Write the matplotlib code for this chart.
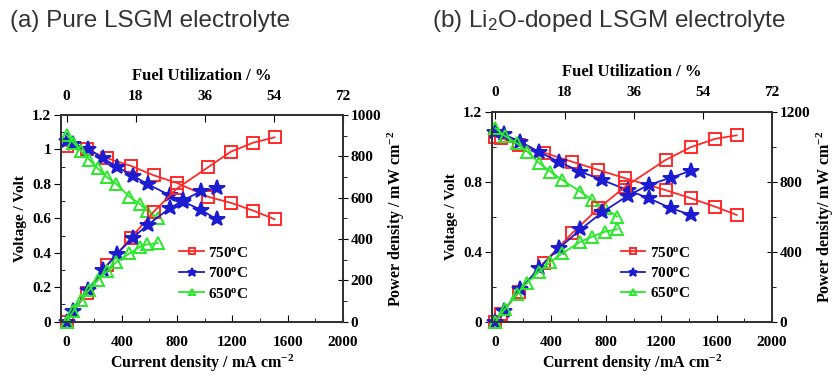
import numpy as np
import matplotlib
matplotlib.use("Agg")
import matplotlib.pyplot as plt
from matplotlib.ticker import MultipleLocator, FuncFormatter

# ---- data ----
# (a) pure LSGM
a_i750 = [0, 145, 290, 465, 630, 800, 1025, 1190, 1350, 1505]
a_v750 = [1.02, 1.0, 0.95, 0.905, 0.85, 0.805, 0.725, 0.69, 0.645, 0.595]
a_p750 = [0, 140, 272, 405, 532, 645, 748, 823, 866, 892]

a_i700 = [0, 50, 155, 265, 365, 480, 590, 745, 845, 975, 1085]
a_v700 = [1.05, 1.03, 1.005, 0.948, 0.9, 0.848, 0.797, 0.735, 0.697, 0.648, 0.595]
a_p700 = [0, 52, 155, 250, 328, 407, 470, 548, 588, 632, 646]

a_i650 = [0, 50, 105, 165, 225, 290, 360, 455, 530, 580, 660]
a_v650 = [1.085, 1.04, 0.99, 0.94, 0.89, 0.84, 0.80, 0.725, 0.685, 0.645, 0.605]
a_p650 = [0, 52, 104, 155, 200, 243, 288, 330, 362, 374, 380]

# (b) Li2O-doped LSGM
b_i750 = [0, 40, 170, 350, 555, 745, 940, 1230, 1415, 1590, 1745]
b_v750 = [1.057, 1.05, 1.01, 0.966, 0.914, 0.867, 0.819, 0.752, 0.705, 0.657, 0.61]
b_p750 = [0, 42, 170, 337, 506, 648, 772, 924, 998, 1045, 1065]

b_i700 = [0, 60, 180, 313, 458, 615, 770, 957, 1110, 1270, 1415]
b_v700 = [1.086, 1.07, 1.029, 0.971, 0.914, 0.857, 0.81, 0.752, 0.705, 0.648, 0.61]
b_p700 = [0, 64, 185, 304, 419, 527, 624, 720, 782, 823, 863]

b_i650 = [0, 70, 157, 230, 313, 398, 482, 615, 700, 795, 880]
b_v650 = [1.105, 1.06, 1.019, 0.972, 0.909, 0.857, 0.81, 0.743, 0.695, 0.648, 0.60]
b_p650 = [0, 74, 160, 223, 284, 341, 390, 457, 486, 515, 528]

temps = ["750", "700", "650"]
colors = ["#ff2a2a", "#1c1cd0", "#2ae82a"]
markers = ["s", "*", "^"]

serif = "Liberation Serif"
plt.rcParams["font.family"] = serif
plt.rcParams["font.weight"] = "bold"
plt.rcParams["mathtext.default"] = "regular"

fig = plt.figure(figsize=(8.37, 3.76), dpi=100)


def fmt(v, pos):
    return "%g" % v


def panel(rect, xmin, cur, volt, powr, pmax, vstep, pstep, xlab, ylab, plab, leg_xy):
    ax = fig.add_axes(rect)
    axp = ax.twinx()
    axt = ax.twiny()
    for k in range(3):
        ms = 11.5 if markers[k] == "*" else 9
        kw = dict(color=colors[k], marker=markers[k], ms=ms, lw=1.3, mew=1.4, clip_on=False)
        if markers[k] == "*":
            kw["mfc"] = colors[k]
        else:
            kw["mfc"] = "none"
        ax.plot(cur[k], volt[k], label=temps[k] + "$^{o}$C", **kw)
        axp.plot(cur[k], powr[k], **kw)
    ax.set_xlim(xmin, 2000)
    ax.set_ylim(0, 1.2)
    axp.set_ylim(0, pmax)
    axt.set_xlim(xmin * 0.036, 72)

    ax.xaxis.set_major_locator(MultipleLocator(400))
    ax.xaxis.set_minor_locator(MultipleLocator(200))
    ax.yaxis.set_major_locator(MultipleLocator(vstep))
    ax.yaxis.set_minor_locator(MultipleLocator(vstep / 2))
    ax.yaxis.set_major_formatter(FuncFormatter(fmt))
    axp.yaxis.set_major_locator(MultipleLocator(pstep))
    axp.yaxis.set_minor_locator(MultipleLocator(pstep / 2))
    axt.xaxis.set_major_locator(MultipleLocator(18))

    ax.tick_params(axis="x", direction="in", length=5, labelsize=11, pad=10)
    ax.tick_params(axis="x", which="minor", direction="in", length=3)
    ax.tick_params(axis="y", direction="out", length=5, labelsize=11, pad=2)
    ax.tick_params(axis="y", which="minor", direction="in", length=3)
    axp.tick_params(axis="y", direction="inout", length=7, labelsize=11, pad=2)
    axp.tick_params(axis="y", which="minor", direction="out", length=3)
    axt.tick_params(axis="x", direction="in", length=5, labelsize=11, pad=9)

    for a in (ax, axp, axt):
        for s in a.spines.values():
            s.set_linewidth(1.2)
            s.set_color("#333333")

    ax.set_xlabel(xlab, fontsize=11.5, fontweight="bold", labelpad=3)
    ax.set_ylabel(ylab, fontsize=11, fontweight="bold", labelpad=4)
    axp.set_ylabel(plab, fontsize=11.5, fontweight="bold", labelpad=3)
    axt.set_xlabel("Fuel Utilization / %", fontsize=12, fontweight="bold", labelpad=7)

    ax.legend(loc="center left", bbox_to_anchor=leg_xy, frameon=False, fontsize=11,
              markerscale=0.55, handlelength=1.6, handletextpad=0.3,
              labelspacing=0.42, borderpad=0, borderaxespad=0)
    return ax


panel([0.0729, 0.1444, 0.3369, 0.5497], -40,
      [a_i750, a_i700, a_i650], [a_v750, a_v700, a_v650], [a_p750, a_p700, a_p650],
      1000, 0.2, 200,
      "Current density / mA cm$^{-2}$", "Voltage / Volt", "Power density / mW cm$^{-2}$",
      (0.42, 0.235))

panel([0.5878, 0.1444, 0.3345, 0.5586], -25,
      [b_i750, b_i700, b_i650], [b_v750, b_v700, b_v650], [b_p750, b_p700, b_p650],
      1200, 0.4, 400,
      "Current density /mA cm$^{-2}$", "Voltage / Volt", "Power density/ mW cm$^{-2}$",
      (0.46, 0.232))

title_kw = dict(fontsize=17.5, family="Liberation Sans", fontweight="normal",
                color="#333333", va="baseline", ha="left")
fig.text(10 / 837, 1 - 27 / 376, "(a) Pure LSGM electrolyte", **title_kw)
fig.text(432 / 837, 1 - 27 / 376, "(b) Li$_\\mathregular{2}$O-doped LSGM electrolyte", **title_kw)

fig.savefig("out.png", dpi=100)
